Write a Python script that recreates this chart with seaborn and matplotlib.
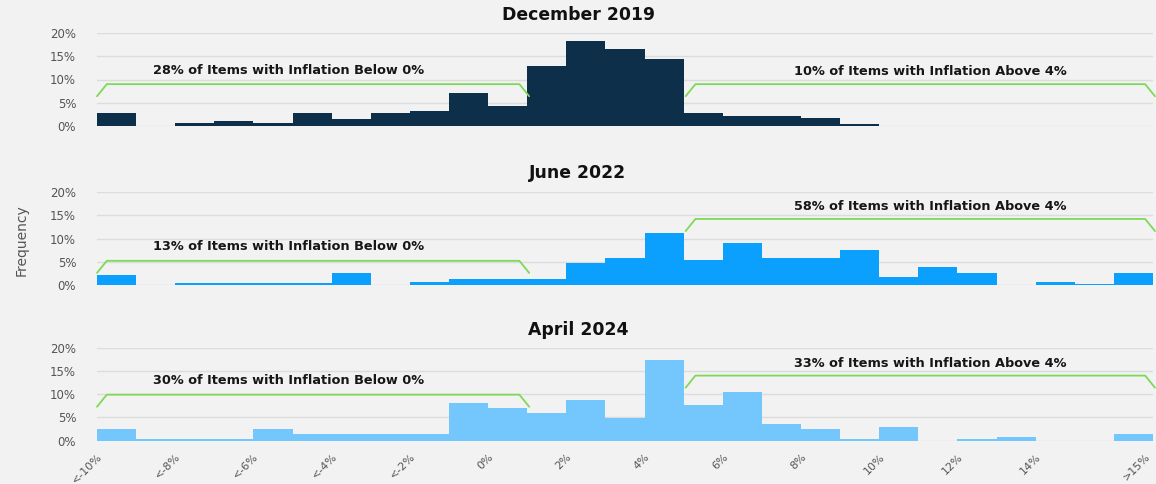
import numpy as np
import pandas as pd
import seaborn as sns
import matplotlib.pyplot as plt

# 27 bins: "<-10%", then 1% steps from -10% to 15%, then ">15%"
dec_2019 = [2.7, 0, 0.6, 1.1, 0.6, 2.7, 1.6, 2.7, 3.3, 7.1, 4.4, 12.8, 18.3, 16.6,
            14.4, 2.7, 2.2, 2.2, 1.7, 0.5, 0, 0, 0, 0, 0, 0, 0]
jun_2022 = [2.2, 0, 0.35, 0.35, 0.35, 0.35, 2.5, 0, 0.65, 1.3, 1.3, 1.3, 4.8, 5.7,
            11.2, 5.4, 9.0, 5.7, 5.7, 7.5, 1.65, 3.9, 2.5, 0, 0.65, 0.2, 2.5]
apr_2024 = [2.5, 0.3, 0.3, 0.3, 2.5, 1.4, 1.4, 1.4, 1.4, 8.2, 7.1, 5.9, 8.8, 4.8,
            17.3, 7.6, 10.5, 3.6, 2.5, 0.3, 3.0, 0, 0.3, 0.8, 0, 0, 1.4]

titles = ["December 2019", "June 2022", "April 2024"]
colors = ["#0d2f4a", "#0ba0fd", "#74c7fd"]

share_below = ["28%", "13%", "30%"]
share_above = ["10%", "58%", "33%"]
# bracket heights (in %) for the below-0 and above-4 annotations
bracket_below = [9, 5.2, 9.9]
bracket_above = [9, 14.2, 14]

tick_labels = ["<-10%", "<-8%", "<-6%", "<-4%", "<-2%", "0%", "2%", "4%", "6%",
               "8%", "10%", "12%", "14%", ">15%"]
tick_pos = [0, 2, 4, 6, 8, 10, 12, 14, 16, 18, 20, 22, 24, 26.8]

sns.set_style("white")
plt.rcParams["font.family"] = ["DejaVu Sans"]

bg = "#f2f2f2"
fig = plt.figure(figsize=(11.56, 4.84), dpi=100, facecolor=bg)

W, H = 1156, 484
bottoms = [126, 285, 440.7]
n_bins = len(dec_2019)

for i, values in enumerate([dec_2019, jun_2022, apr_2024]):
    ax = fig.add_axes([97 / W, 1 - bottoms[i] / H, 1056 / W, 93 / H])
    ax.set_facecolor(bg)
    df = pd.DataFrame({"bin": np.arange(n_bins) + 0.5, "share": values})
    sns.histplot(data=df, x="bin", weights="share", binwidth=1, binrange=(0, n_bins),
                 color=colors[i], alpha=1, linewidth=0, ax=ax)
    ax.set_xlim(0, n_bins)
    ax.set_ylim(0, 20)
    ax.set_yticks([0, 5, 10, 15, 20])
    ax.set_yticklabels([f"{v}%" for v in [0, 5, 10, 15, 20]])
    ax.grid(axis="y", color="#dcdcdc", linewidth=1)
    ax.set_axisbelow(True)
    for s in ax.spines.values():
        s.set_visible(False)
    ax.set_ylabel("")
    ax.set_xlabel("")
    ax.tick_params(axis="y", length=0, labelsize=8.5, labelcolor="#555555", pad=15)

    ax.xaxis.remove_overlapping_locs = False
    ax.set_xticks(np.linspace(0, n_bins, 16))
    ax.set_xticklabels([])
    ax.tick_params(axis="x", which="major", length=4, width=1, color="#aaaaaa")
    if i == 2:
        ax.set_xticks(tick_pos, tick_labels, minor=True)
        ax.tick_params(axis="x", which="minor", length=0, labelsize=8,
                       labelcolor="#555555", pad=8)
        for lab in ax.get_xticklabels(minor=True):
            lab.set_rotation(45)
            lab.set_ha("right")
            lab.set_va("top")
            lab.set_rotation_mode("anchor")

    # brackets
    green = "#7ed957"
    hb = bracket_below[i]
    ax.plot([0, 0.25, 10.8, 11.05], [hb - 2.6, hb, hb, hb - 2.6],
            color=green, lw=1.3, clip_on=False)
    ax.text(4.9, hb + 3, f"{share_below[i]} of Items with Inflation Below 0%",
            ha="center", va="center", fontsize=9.3, fontweight="bold", color="#161616")
    ha_ = bracket_above[i]
    ax.plot([15.05, 15.3, 26.8, 27.05], [ha_ - 2.6, ha_, ha_, ha_ - 2.6],
            color=green, lw=1.3, clip_on=False)
    ax.text(21.3, ha_ + 2.7, f"{share_above[i]} of Items with Inflation Above 4%",
            ha="center", va="center", fontsize=9.3, fontweight="bold", color="#161616")

    fig.text(0.5, 1 - [15, 173, 330][i] / H, titles[i], ha="center", va="center",
             fontsize=12.4, fontweight="bold", color="#111111")

fig.text(22 / W, 1 - 240 / H, "Frequency", rotation=90, ha="center", va="center",
         fontsize=10, color="#555555")

fig.savefig("out.png", dpi=100, facecolor=bg)
